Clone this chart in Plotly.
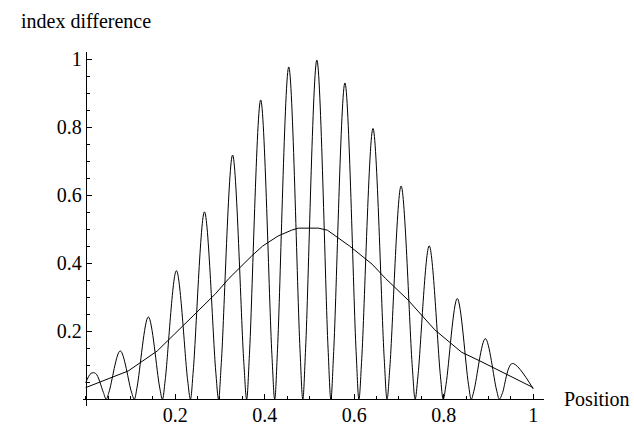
import plotly.graph_objects as go

# Oscillating curve: vertices
# (start, flanks near each minimum, minima, peaks, end)
osc_x = [0.0, 0.012, 0.022, 0.0395, 0.0458, 0.0521,
         0.0772, 0.1023, 0.1086, 0.1149,
         0.1400, 0.1651, 0.1714, 0.1777,
         0.2027, 0.2277, 0.2340, 0.2403,
         0.2654, 0.2905, 0.2968, 0.3031,
         0.3282, 0.3533, 0.3596, 0.3659,
         0.3910, 0.4160, 0.4223, 0.4286,
         0.4537, 0.4788, 0.4851, 0.4914,
         0.5165, 0.5415, 0.5478, 0.5541,
         0.5792, 0.6042, 0.6105, 0.6168,
         0.6419, 0.6670, 0.6733, 0.6796,
         0.7047, 0.7298, 0.7361, 0.7424,
         0.7675, 0.7926, 0.7989, 0.8052,
         0.8302, 0.8552, 0.8615, 0.8678,
         0.8929, 0.9180, 0.9243, 0.9306,
         0.953, 1.0]
osc_y = [0.048, 0.076, 0.076, 0.020, 0.0, 0.021,
         0.142, 0.021, 0.0, 0.036,
         0.242, 0.036, 0.0, 0.057,
         0.378, 0.057, 0.0, 0.083,
         0.551, 0.083, 0.0, 0.108,
         0.718, 0.108, 0.0, 0.132,
         0.880, 0.132, 0.0, 0.147,
         0.977, 0.147, 0.0, 0.150,
         0.997, 0.150, 0.0, 0.140,
         0.930, 0.140, 0.0, 0.119,
         0.796, 0.119, 0.0, 0.094,
         0.627, 0.094, 0.0, 0.068,
         0.451, 0.068, 0.0, 0.044,
         0.296, 0.044, 0.0, 0.027,
         0.178, 0.027, 0.0, 0.016,
         0.105, 0.030]

# Smooth (averaged) curve
avg_x = [0.0, 0.06, 0.095, 0.16, 0.21, 0.24, 0.29, 0.32, 0.37, 0.395, 0.43,
         0.46, 0.475, 0.52, 0.54, 0.59, 0.64, 0.67, 0.72, 0.78, 0.84, 0.88, 1.0]
avg_y = [0.034, 0.066, 0.083, 0.142, 0.205, 0.245, 0.31, 0.355, 0.42, 0.45, 0.48,
         0.497, 0.503, 0.503, 0.497, 0.45, 0.397, 0.355, 0.292, 0.204, 0.138, 0.113, 0.034]

x_ticks = [0.2, 0.4, 0.6, 0.8, 1.0]
x_ticklabels = ["0.2", "0.4", "0.6", "0.8", "1"]
y_ticks = [0.2, 0.4, 0.6, 0.8, 1.0]
y_ticklabels = ["0.2", "0.4", "0.6", "0.8", "1"]

x_range = [-0.006, 1.024]
y_range = [-0.02, 1.021]

FONT = "Liberation Serif, Times New Roman, Times, serif"

fig = go.Figure()
fig.add_trace(go.Scatter(x=osc_x, y=osc_y, mode="lines",
                         line=dict(color="black", width=1, shape="spline", smoothing=1),
                         hoverinfo="skip", showlegend=False))
fig.add_trace(go.Scatter(x=avg_x, y=avg_y, mode="lines",
                         line=dict(color="black", width=1),
                         hoverinfo="skip", showlegend=False))

xpos = (0 - y_range[0]) / (y_range[1] - y_range[0])
ypos = (0 - x_range[0]) / (x_range[1] - x_range[0])

fig.update_layout(
    width=634, height=425,
    margin=dict(l=83, r=90, t=52, b=19, autoexpand=False),
    paper_bgcolor="white", plot_bgcolor="white",
    font=dict(family=FONT, size=20, color="black"),
    xaxis=dict(range=x_range, anchor="free", position=xpos,
               showline=True, linecolor="black", linewidth=1,
               showgrid=False, zeroline=False,
               tickmode="array", tickvals=x_ticks, ticktext=x_ticklabels,
               ticks="inside", ticklen=5, tickcolor="black", tickwidth=1,
               ticklabelstandoff=-2,
               tickfont=dict(family=FONT, size=20, color="black"),
               minor=dict(ticks="inside", ticklen=3, tickcolor="black",
                          tickmode="linear", tick0=0, dtick=0.05, showgrid=False)),
    yaxis=dict(range=y_range, anchor="free", position=ypos,
               showline=True, linecolor="black", linewidth=1,
               showgrid=False, zeroline=False,
               tickmode="array", tickvals=y_ticks, ticktext=y_ticklabels,
               ticks="inside", ticklen=5, tickcolor="black", tickwidth=1,
               tickfont=dict(family=FONT, size=20, color="black"),
               minor=dict(ticks="inside", ticklen=3, tickcolor="black",
                          tickmode="linear", tick0=0, dtick=0.05, showgrid=False)),
    annotations=[
        dict(text="index difference", xref="paper", yref="paper",
             x=ypos, y=1.0, xanchor="center", yanchor="bottom", yshift=18,
             showarrow=False, font=dict(family=FONT, size=20, color="black")),
        dict(text="Position", xref="paper", yref="paper",
             x=1.0, y=xpos, xanchor="left", yanchor="middle", xshift=18,
             showarrow=False, font=dict(family=FONT, size=20, color="black")),
    ],
)

fig.write_html("out.html")
